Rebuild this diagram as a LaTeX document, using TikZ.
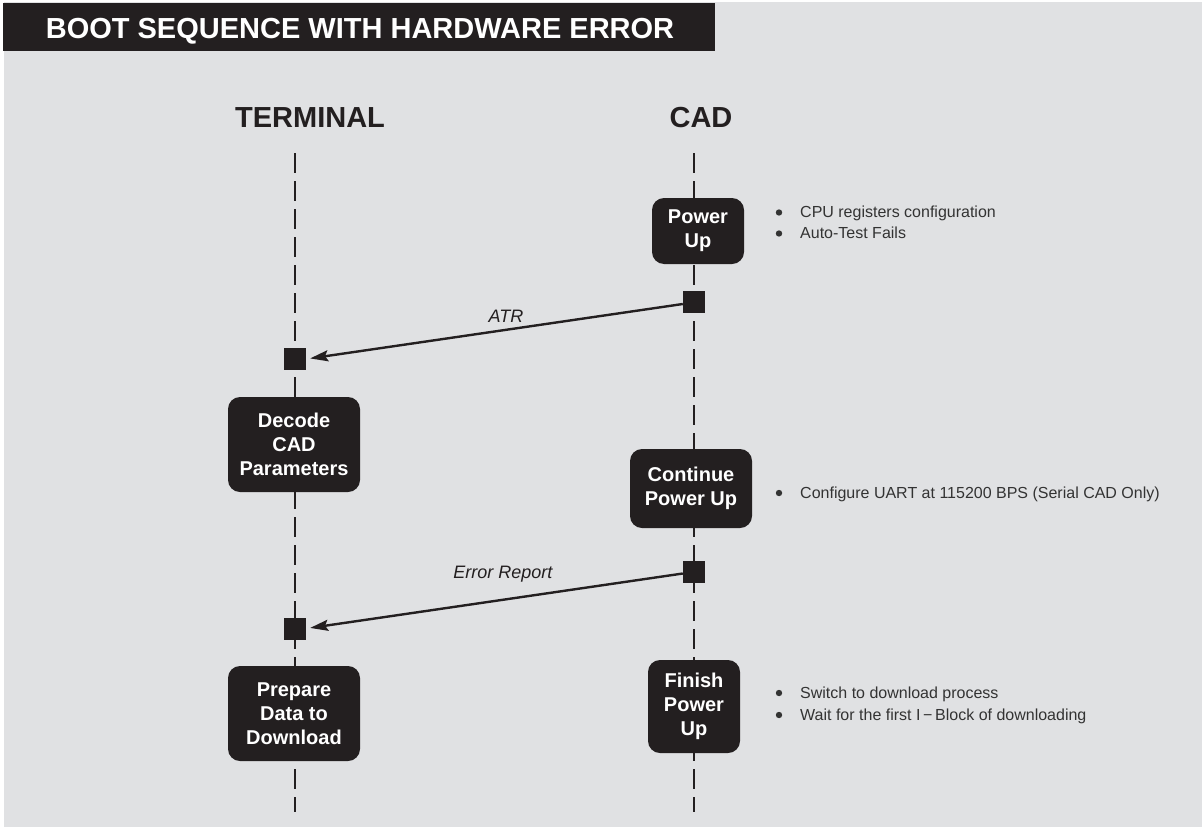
\documentclass[tikz,border=0pt]{standalone}
\usepackage{fontspec}
\setmainfont{Liberation Sans}
\usetikzlibrary{arrows.meta}
\definecolor{bg}{HTML}{E0E1E3}
\definecolor{ink}{HTML}{231F20}
\definecolor{note}{HTML}{333333}
\begin{document}
\begin{tikzpicture}[x=1pt,y=-1pt,
  stepbox/.style={fill=ink, rounded corners=12pt, text=white, align=center,
    inner sep=0pt, font=\fontsize{20}{24}\selectfont\bfseries},
  marker/.style={fill=ink, minimum size=22pt, inner sep=0pt},
  lifeline/.style={draw=ink, line width=1.2pt, dash pattern=on 20pt off 8pt},
  msg/.style={draw=ink, line width=2.4pt,
    -{Stealth[length=18pt, width=11pt, inset=3pt]}, shorten >=4pt},
  msglabel/.style={anchor=base, text=ink, font=\fontsize{18}{22}\selectfont\itshape},
  header/.style={anchor=base, text=ink, font=\fontsize{29}{34}\selectfont\bfseries},
  notetext/.style={anchor=base west, text=note, inner sep=0pt, font=\fontsize{16}{20}\selectfont},
  dot/.style={fill=note, draw=none}]
\useasboundingbox (0,0) rectangle (1202,827);
\fill[white] (0,0) rectangle (1202,827);
\fill[bg] (4,2) rectangle (1202,827);

% title bar
\fill[ink] (3,3) rectangle (715,51);
\node[anchor=base, text=white, font=\fontsize{29}{35}\selectfont\bfseries] (title) at (360,38) {BOOT SEQUENCE WITH HARDWARE ERROR};

% lifeline headers
\node[header] (term) at (310,127.5) {TERMINAL};
\node[header] (cad) at (701,127.5) {CAD};

% lifelines
\coordinate (termtop) at (295,153);
\coordinate (termbot) at (295,812);
\coordinate (cadtop) at (694,153);
\coordinate (cadbot) at (694,812);
\draw[lifeline] (termtop) -- (termbot);
\draw[lifeline] (cadtop) -- (cadbot);

% activity boxes
\node[stepbox, minimum width=92pt, minimum height=66pt] (power) at (698,231) {Power\\Up};
\node[stepbox, minimum width=132pt, minimum height=95pt] (decode) at (294,444.5) {Decode\\CAD\\Parameters};
\node[stepbox, minimum width=122pt, minimum height=79pt] (cont) at (691,488.5) {Continue\\Power Up};
\node[stepbox, minimum width=132pt, minimum height=95pt] (prep) at (294,713.5) {Prepare\\Data to\\Download};
\node[stepbox, minimum width=92pt, minimum height=93pt] (finish) at (694,706.5) {Finish\\Power\\Up};

% message end markers
\node[marker] (cadA) at (694,302) {};
\node[marker] (termA) at (295,359) {};
\node[marker] (cadB) at (694,571.5) {};
\node[marker] (termB) at (295,628.5) {};

% messages
\draw[msg] ([yshift=-2pt]cadA.west) -- (termA.east);
\node[msglabel] (atr) at (506,322.5) {ATR};
\draw[msg] ([yshift=-2pt]cadB.west) -- (termB.east);
\node[msglabel] (err) at (503,578) {Error Report};

% notes
\fill[dot] (779,212.5) circle (3.2pt);
\node[notetext] (n1) at (800,217.5) {CPU registers configuration};
\fill[dot] (779,233.5) circle (3.2pt);
\node[notetext] (n2) at (800,238.5) {Auto-Test Fails};
\fill[dot] (779,493) circle (3.2pt);
\node[notetext] (n3) at (800,498.5) {Configure UART at 115200 BPS (Serial CAD Only)};
\fill[dot] (779,693) circle (3.2pt);
\node[notetext] (n4) at (800,698.5) {Switch to download process};
\fill[dot] (779,715) circle (3.2pt);
\node[notetext] (n5) at (800,720.5) {Wait for the first I\,−\,Block of downloading};
\end{tikzpicture}
\end{document}
